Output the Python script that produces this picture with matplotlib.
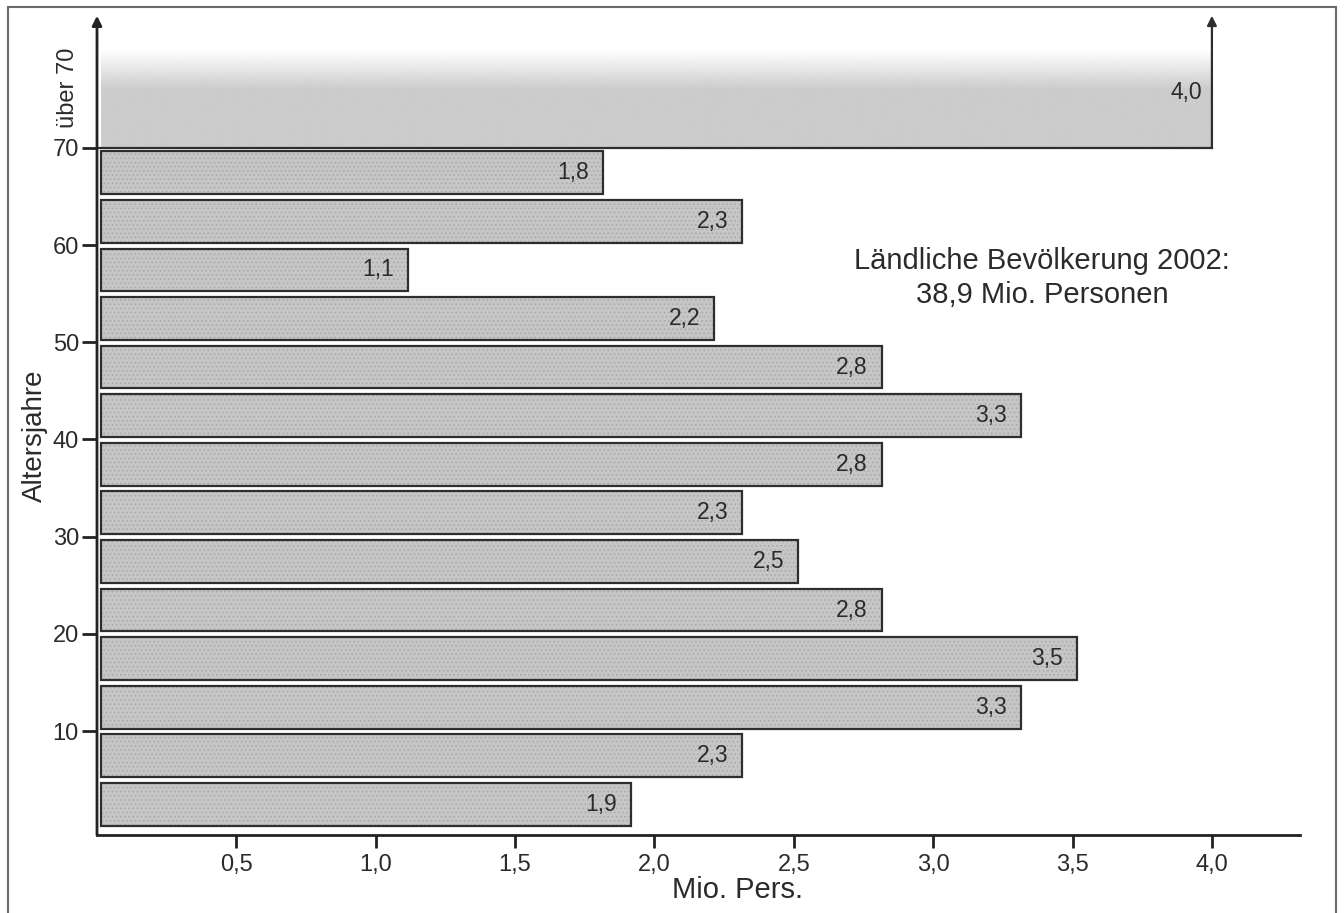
import matplotlib.pyplot as plt
import numpy as np
from matplotlib.patches import Rectangle

plt.rcParams['font.family'] = ['Liberation Sans', 'DejaVu Sans']
plt.rcParams['hatch.linewidth'] = 0.6

# age groups (lower bound, 5-year steps) and rural population in Mio.
age_lower = [0, 5, 10, 15, 20, 25, 30, 35, 40, 45, 50, 55, 60, 65]
values = [1.9, 2.3, 3.3, 3.5, 2.8, 2.5, 2.3, 2.8, 3.3, 2.8, 2.2, 1.1, 2.3, 1.8]
over70_value = 4.0
over70_label = "über 70"

x_ticks = [0.5, 1.0, 1.5, 2.0, 2.5, 3.0, 3.5, 4.0]
x_tick_labels = ["0,5", "1,0", "1,5", "2,0", "2,5", "3,0", "3,5", "4,0"]
y_ticks = [10, 20, 30, 40, 50, 60, 70]

note = "Ländliche Bevölkerung 2002:\n38,9 Mio. Personen"

text_color = "#2b2b2b"
fill_color = "#c6c6c6"
edge_color = "#2e2e2e"

fig = plt.figure(figsize=(13.44, 9.13), dpi=100)

# outer frame of the scanned figure
fig.patches.append(Rectangle((8 / 1344, -0.05), 1328 / 1344, 1.05 - 7 / 913,
                             transform=fig.transFigure, fill=False,
                             edgecolor="#6a6a6a", linewidth=1.5))

ax = fig.add_axes([97 / 1344, 0.0854, 1203 / 1344, 0.9016])
ax.set_xlim(0, 4.316)
ax.set_ylim(-0.7, 84)

centers = [a + 2.45 for a in age_lower]
bar_h = 4.4
# textured fill, then dark outline on top
ax.barh(centers, values, height=bar_h, left=0.015, color=fill_color,
        edgecolor="#a8a8a8", linewidth=0, hatch="....", zorder=2)
ax.barh(centers, values, height=bar_h, left=0.015, fill=False,
        edgecolor=edge_color, linewidth=1.6, zorder=3)

for c, v in zip(centers, values):
    ax.text(v - 0.035, c, f"{v:.1f}".replace(".", ","), ha="right", va="center",
            fontsize=16.5, color=text_color, zorder=4)

# "über 70" block with fading top
grad = np.ones((200, 1, 4))
grad[:, 0, :3] = 0.80
fade = np.clip((np.linspace(0, 1, 200) - 0.6) / 0.4, 0, 1)
grad[:, 0, 3] = 1 - fade
ax.imshow(grad, extent=[0.015, over70_value, 70.0, 80.0], origin="lower",
          aspect="auto", zorder=1, interpolation="bilinear")
ax.plot([0, over70_value], [70.0, 70.0], color=edge_color, lw=1.6, zorder=3)
ax.annotate("", xy=(over70_value, 83.6), xytext=(over70_value, 70.0),
            arrowprops=dict(arrowstyle="-|>", lw=1.6, color=edge_color,
                            mutation_scale=14, shrinkA=0, shrinkB=0), zorder=3)
ax.text(over70_value - 0.035, 75.7, f"{over70_value:.1f}".replace(".", ","),
        ha="right", va="center", fontsize=16.5, color=text_color, zorder=4)

# y axis with arrow
ax.annotate("", xy=(0, 83.6), xytext=(0, -0.7),
            arrowprops=dict(arrowstyle="-|>", lw=2, color="#222222",
                            mutation_scale=14, shrinkA=0, shrinkB=0), zorder=5)

for s in ["top", "right", "left"]:
    ax.spines[s].set_visible(False)
ax.spines["bottom"].set_linewidth(2)
ax.spines["bottom"].set_color("#222222")

ax.set_xticks(x_ticks)
ax.set_xticklabels(x_tick_labels)
ax.set_yticks(y_ticks)
ax.tick_params(axis="x", direction="out", length=9, width=2, color="#222222",
               labelsize=17, labelcolor=text_color, pad=5)
ax.tick_params(axis="y", direction="out", length=11, width=2, color="#222222",
               labelsize=17, labelcolor=text_color, pad=2)

ax.text(-0.024, 76.2, over70_label, transform=ax.get_yaxis_transform(),
        rotation=90, ha="center", va="center", fontsize=17, color=text_color)

ax.text(3.39, 56.6, note, ha="center", va="center", fontsize=21,
        color=text_color, linespacing=1.25)

fig.text(737 / 1344, 1 - 890 / 913, "Mio. Pers.", ha="center", va="center",
         fontsize=21, color=text_color)
fig.text(35 / 1344, 1 - 436 / 913, "Altersjahre", ha="center", va="center",
         rotation=90, fontsize=20, color=text_color)

fig.savefig("out.png", dpi=100)
